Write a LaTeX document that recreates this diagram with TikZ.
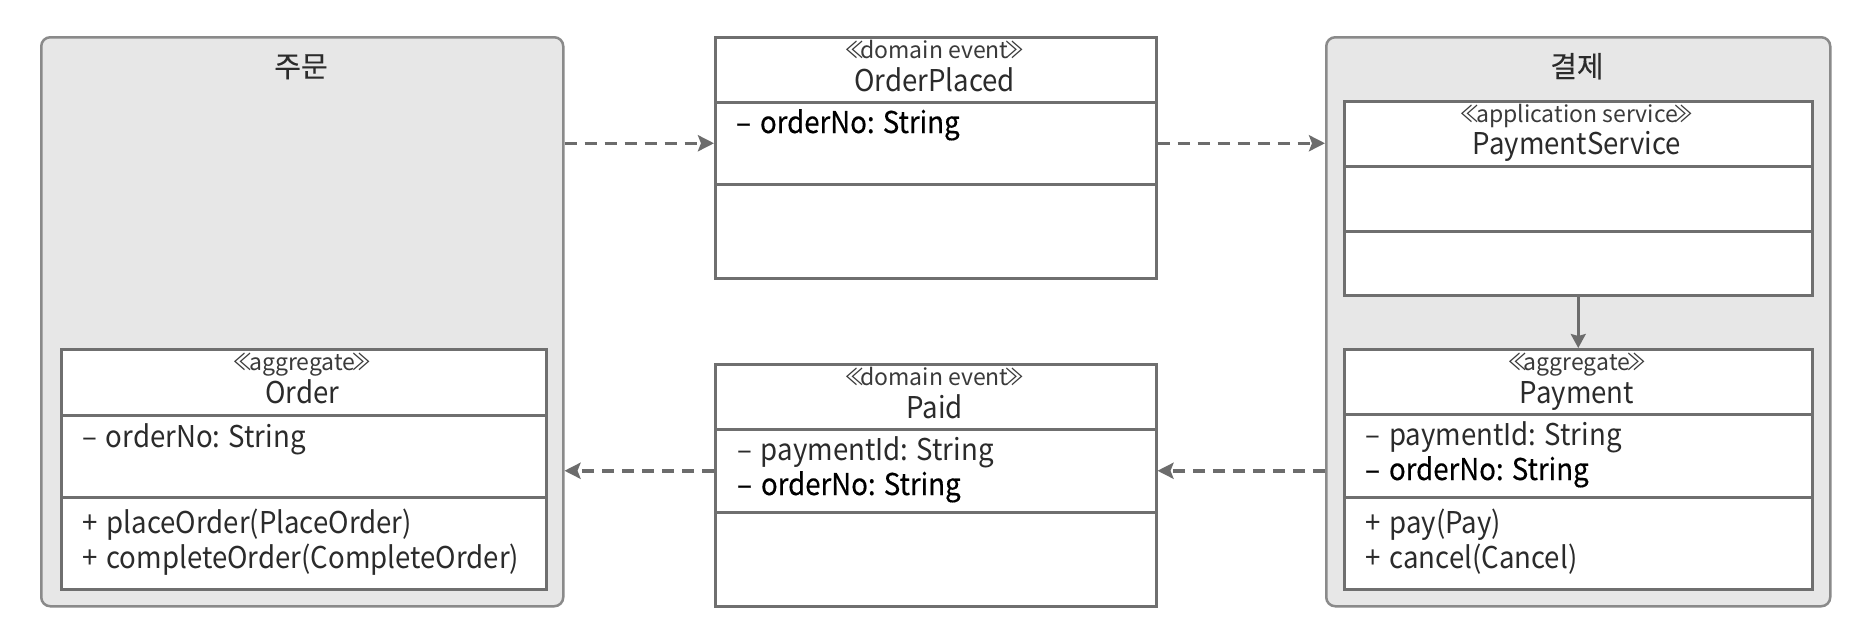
\documentclass[tikz,border=0pt]{standalone}
\usepackage{fontspec}
\setmainfont[FakeStretch=0.92]{Noto Sans CJK KR}
\newfontfamily\hlfont[FakeStretch=0.92,FakeBold=0.35]{Noto Sans CJK KR}
\newfontfamily\stfont{Noto Sans CJK KR}
\newfontfamily\ttlfont[FakeBold=0.3]{Noto Sans CJK KR}
\usetikzlibrary{arrows.meta}
\definecolor{ctxfill}{HTML}{E7E7E7}
\definecolor{ctxline}{HTML}{8A8A8A}
\definecolor{boxline}{HTML}{6F6F6F}
\definecolor{txt}{HTML}{2B2B2B}
\definecolor{stxt}{HTML}{3A3A3A}
\definecolor{arr}{HTML}{6C6C6C}
\newcommand\lgl{\kern-2pt\scalebox{0.8}[1]{≪}\kern-3pt}
\newcommand\rgl{\kern-3pt\scalebox{0.8}[1]{≫}\kern-2pt}
\newcommand\gap{\hspace{9pt}}
\begin{document}
\begin{tikzpicture}[x=1pt,y=-1pt,
 ctx/.style={draw=ctxline, fill=ctxfill, line width=2.5pt, rounded corners=9pt, anchor=north west, inner sep=0pt},
 cmp/.style={draw=boxline, fill=white, line width=2.5pt, anchor=north west, inner sep=0pt},
 title/.style={font=\fontsize{29}{32}\selectfont\ttlfont, text=txt, anchor=base, inner sep=0pt},
 stereo/.style={font=\fontsize{23}{26}\selectfont\stfont, text=stxt, anchor=base, inner sep=0pt},
 cname/.style={font=\fontsize{30}{32}\selectfont, text=txt, anchor=base, inner sep=0pt},
 member/.style={font=\fontsize{30}{32}\selectfont, text=txt, anchor=base west, inner sep=0pt},
 hl/.style={font=\fontsize{30}{32}\selectfont\hlfont, text=black, anchor=base west, inner sep=0pt},
 evt/.style={draw=arr, line width=3.5pt, dash pattern=on 12pt off 8pt, -{Stealth[length=16pt,width=16pt,inset=3pt]}},
 dep/.style={draw=arr, line width=2.5pt, -{Stealth[length=14pt,width=15pt,inset=2pt]}},
]
\useasboundingbox[fill=white] (0,0) rectangle (1864,640);

% bounded contexts
\node[ctx, minimum width=522pt, minimum height=569pt] (ctxOrder) at (40,36) {};
\node[ctx, minimum width=504pt, minimum height=569pt] (ctxPay) at (1325,36) {};
\node[title] (tOrder) at (301,77) {주문};
\node[title] (tPay) at (1577,77) {결제};

% OrderPlaced
\node[cmp, minimum width=441pt, minimum height=65pt] (opHead) at (714,36) {};
\node[cmp, minimum width=441pt, minimum height=82pt] (opAttr) at (714,101) {};
\node[cmp, minimum width=441pt, minimum height=94pt] (opOps) at (714,183) {};
\node[stereo] (opSt) at (934.5,58) {\lgl domain event\rgl};
\node[cname] (opName) at (934.5,91) {OrderPlaced};
\node[hl] (opA1) at (736,133) {–\gap orderNo: String};

% Paid
\node[cmp, minimum width=441pt, minimum height=65pt] (paidHead) at (714,363) {};
\node[cmp, minimum width=441pt, minimum height=83pt] (paidAttr) at (714,428) {};
\node[cmp, minimum width=441pt, minimum height=94pt] (paidOps) at (714,511) {};
\node[stereo] (paidSt) at (934.5,385) {\lgl domain event\rgl};
\node[cname] (paidName) at (934.5,418) {Paid};
\node[member] (paidA1) at (737,460) {–\gap paymentId: String};
\node[hl] (paidA2) at (737,495) {–\gap orderNo: String};

% Order
\node[cmp, minimum width=485pt, minimum height=66pt] (ordHead) at (60,348) {};
\node[cmp, minimum width=485pt, minimum height=82pt] (ordAttr) at (60,414) {};
\node[cmp, minimum width=485pt, minimum height=92pt] (ordOps) at (60,496) {};
\node[stereo] (ordSt) at (302.5,370) {\lgl aggregate\rgl};
\node[cname] (ordName) at (302.5,403) {Order};
\node[member] (ordA1) at (82,447) {–\gap orderNo: String};
\node[member] (ordO1) at (82,533) {+\gap placeOrder(PlaceOrder)};
\node[member] (ordO2) at (82,568) {+\gap completeOrder(CompleteOrder)};

% PaymentService
\node[cmp, minimum width=468pt, minimum height=65pt] (psHead) at (1343,100) {};
\node[cmp, minimum width=468pt, minimum height=65pt] (psAttr) at (1343,165) {};
\node[cmp, minimum width=468pt, minimum height=64pt] (psOps) at (1343,230) {};
\node[stereo] (psSt) at (1577,122) {\lgl application service\rgl};
\node[cname] (psName) at (1577,154) {PaymentService};

% Payment
\node[cmp, minimum width=468pt, minimum height=65pt] (payHead) at (1343,348) {};
\node[cmp, minimum width=468pt, minimum height=83pt] (payAttr) at (1343,413) {};
\node[cmp, minimum width=468pt, minimum height=92pt] (payOps) at (1343,496) {};
\node[stereo] (paySt) at (1577,370) {\lgl aggregate\rgl};
\node[cname] (payName) at (1577,403) {Payment};
\node[member] (payA1) at (1365,445) {–\gap paymentId: String};
\node[hl] (payA2) at (1365,480) {–\gap orderNo: String};
\node[member] (payO1) at (1365,533) {+\gap pay(Pay)};
\node[member] (payO2) at (1365,568) {+\gap cancel(Cancel)};

% connectors
\draw[evt] (ctxOrder.east |- opAttr.west) -- (opAttr.west);
\draw[evt] (opAttr.east) -- (ctxPay.west |- opAttr.east);
\draw[evt] (ctxPay.west |- paidAttr.east) -- (paidAttr.east);
\draw[evt] (paidAttr.west) -- (ctxOrder.east |- paidAttr.west);
\draw[dep] (psOps.south) -- (payHead.north);
\end{tikzpicture}
\end{document}
